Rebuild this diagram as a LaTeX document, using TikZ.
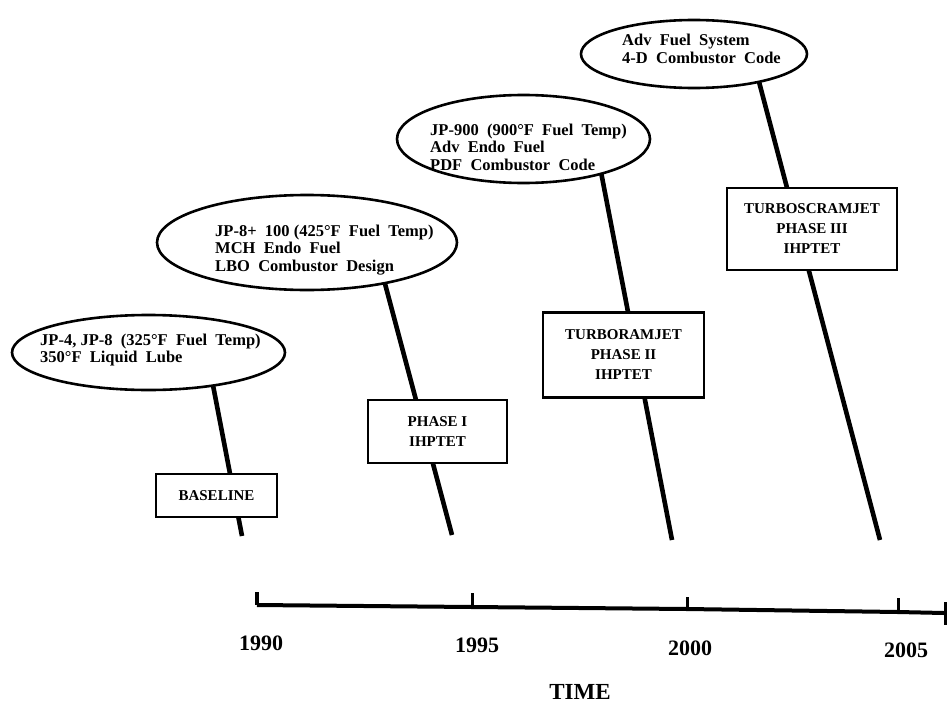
\documentclass[tikz,border=0pt]{standalone}
\usepackage{fontspec}
\setmainfont{Liberation Serif}
\usetikzlibrary{shapes.geometric}
\begin{document}
\begin{tikzpicture}[x=1pt,y=-1pt,
  ell/.style={draw, ellipse, line width=2.6pt, fill=white, inner sep=0pt},
  etext/.style={anchor=west, align=left, inner sep=0pt,
    font=\bfseries\fontsize{16.5}{17.5}\selectfont},
  tbox/.style={draw, rectangle, line width=2.4pt, fill=white, align=center, inner sep=0pt,
    font=\bfseries\fontsize{15}{20}\selectfont},
  conn/.style={line width=4.6pt},
  axisline/.style={line width=4pt},
  tick/.style={line width=3pt},
  yearlbl/.style={font=\bfseries\fontsize{22}{24}\selectfont},
]
\useasboundingbox (0,0) rectangle (949,706);
% connector end points
\coordinate (s1) at (212,380); \coordinate (e1) at (242,536);
\coordinate (s2) at (384,280); \coordinate (e2) at (452,535);
\coordinate (s3) at (601,172); \coordinate (e3) at (672,540);
\coordinate (s4) at (758,78);  \coordinate (e4) at (880,540);
\draw[conn] (s1) -- (e1);
\draw[conn] (s2) -- (e2);
\draw[conn] (s3) -- (e3);
\draw[conn] (s4) -- (e4);
% ellipses
\node[ell, minimum width=273pt, minimum height=75pt] (el1) at (148.5,352.5) {};
\node[etext] (tx1) at (40,350)
  {JP-4, JP-8~~(325\textdegree F~~Fuel~~Temp)\\350\textdegree F~~Liquid~~Lube};
\node[ell, minimum width=300pt, minimum height=95pt] (el2) at (307,242.5) {};
\node[etext] (tx2) at (215,250)
  {JP-8+~~100~(425\textdegree F~~Fuel~~Temp)\\MCH~~Endo~~Fuel\\LBO~~Combustor~~Design};
\node[ell, minimum width=253pt, minimum height=88pt] (el3) at (523.5,139) {};
\node[etext] (tx3) at (430,147)
  {JP-900~~(900\textdegree F~~Fuel~~Temp)\\Adv~~Endo~~Fuel\\PDF~~Combustor~~Code};
\node[ell, minimum width=226pt, minimum height=68pt] (el4) at (694,54) {};
\node[etext] (tx4) at (622,49)
  {Adv~~Fuel~~System\\4-D~~Combustor~~Code};
% boxes
\node[tbox, minimum width=121pt, minimum height=43pt] (b1) at (216.5,495.5) {BASELINE};
\node[tbox, minimum width=139pt, minimum height=63pt] (b2) at (437.5,431.5) {PHASE I\\IHPTET};
\node[tbox, minimum width=161pt, minimum height=85pt] (b3) at (623.5,355) {TURBORAMJET\\PHASE II\\IHPTET};
\node[tbox, minimum width=170pt, minimum height=82pt] (b4) at (812,229) {TURBOSCRAMJET\\PHASE III\\IHPTET};
% time axis
\coordinate (a0) at (257,605);
\coordinate (t0) at (257,592);
\coordinate (a1) at (472,607);
\coordinate (t1) at (472,593);
\coordinate (a2) at (687,609);
\coordinate (t2) at (687,597);
\coordinate (a3) at (898,612);
\coordinate (t3) at (898,598);
\coordinate (a4) at (944,613);
\coordinate (r1) at (945,602);
\coordinate (r2) at (945,625);
\draw[axisline] (a0) -- (a1) -- (a2) -- (a3) -- (a4);
\draw[axisline] (t0) -- (a0);
\draw[tick] (t1) -- (a1);
\draw[tick] (t2) -- (a2);
\draw[tick] (t3) -- (a3);
\draw[tick] (r1) -- (r2);
\node[yearlbl] (y0) at (261,643) {1990};
\node[yearlbl] (y1) at (477,645) {1995};
\node[yearlbl] (y2) at (690,648) {2000};
\node[yearlbl] (y3) at (906,650) {2005};
\node[yearlbl, font=\bfseries\fontsize{23}{25}\selectfont] (tm) at (580,692) {TIME};
\end{tikzpicture}
\end{document}
